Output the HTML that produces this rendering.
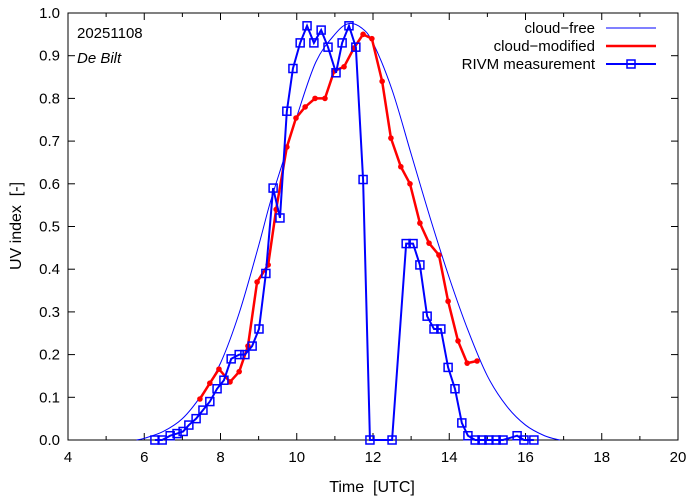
<!DOCTYPE html>
<html><head><meta charset="utf-8"><style>
body{margin:0;background:#fff}
svg{display:block;font-family:"Liberation Sans",sans-serif}
</style></head><body>
<svg id="chart" width="694" height="501" xmlns="http://www.w3.org/2000/svg">
<rect x="0" y="0" width="694" height="501" fill="#fff"/>
<g id="grid"></g>
<g id="series"></g>
<text x="77" y="38" font-size="15">20251108</text>
<text x="77" y="63" font-size="15" font-style="italic">De Bilt</text>
<text x="372" y="492" font-size="16" text-anchor="middle">Time&#160;&#160;[UTC]</text>
<text transform="translate(21,226) rotate(-90)" font-size="16" text-anchor="middle">UV index&#160;&#160;[-]</text>
<g>
<text x="595" y="33" font-size="15" text-anchor="end">cloud−free</text>
<line x1="606" y1="28" x2="656" y2="28" stroke="#00f" stroke-width="1"/>
<text x="595" y="51" font-size="15" text-anchor="end">cloud−modified</text>
<line x1="606" y1="46" x2="656" y2="46" stroke="#f00" stroke-width="2.5"/>
<text x="595" y="69" font-size="15" text-anchor="end">RIVM measurement</text>
<line x1="606" y1="64" x2="656" y2="64" stroke="#00f" stroke-width="2"/>
<rect x="627" y="60" width="8" height="8" fill="none" stroke="#00f" stroke-width="1.5"/>
</g>
</svg>
<script>
const xTicks=[4,6,8,10,12,14,16,18,20];
const yTicks=[0,0.1,0.2,0.3,0.4,0.5,0.6,0.7,0.8,0.9,1.0];
const clearT=[5.8,6,6.5,7,7.5,8,8.5,9,9.3,9.65,10,10.5,11,11.35,11.7,12,12.5,13,13.5,14,14.5,15,15.5,16,16.5,16.9];
const clearV=[0,0.004,0.02,0.05,0.105,0.18,0.3,0.455,0.555,0.655,0.757,0.885,0.95,0.975,0.965,0.93,0.82,0.67,0.52,0.38,0.255,0.15,0.08,0.035,0.01,0];
const modT=[7.46,7.72,7.96,8.25,8.49,8.72,8.96,9.25,9.46,9.74,9.98,10.22,10.48,10.74,10.98,11.24,11.5,11.74,11.97,12.24,12.47,12.73,12.97,13.23,13.47,13.73,13.97,14.23,14.47,14.73];
const modV=[0.096,0.133,0.166,0.136,0.16,0.22,0.37,0.41,0.54,0.686,0.754,0.78,0.8,0.8,0.864,0.874,0.918,0.95,0.94,0.84,0.707,0.64,0.6,0.508,0.461,0.433,0.325,0.232,0.18,0.185];
const measT=[6.28,6.47,6.68,6.86,7.02,7.17,7.36,7.54,7.72,7.91,8.09,8.28,8.49,8.64,8.83,9.01,9.19,9.38,9.56,9.74,9.9,10.09,10.27,10.45,10.64,10.82,11.03,11.19,11.37,11.55,11.74,11.92,12.5,12.87,13.05,13.23,13.42,13.6,13.78,13.97,14.15,14.33,14.49,14.68,14.86,15.04,15.23,15.41,15.78,15.96,16.22];
const measV=[0,0,0.01,0.015,0.02,0.035,0.05,0.07,0.09,0.12,0.14,0.19,0.2,0.2,0.22,0.26,0.39,0.59,0.52,0.77,0.87,0.93,0.97,0.93,0.96,0.92,0.86,0.93,0.97,0.92,0.61,0,0,0.46,0.46,0.41,0.29,0.26,0.26,0.17,0.12,0.04,0.01,0,0,0,0,0,0.01,0,0];
const X0=68,X1=678,Y0=440,Y1=13;
const sx=t=>X0+(t-4)/16*(X1-X0);
const sy=v=>Y0-v*(Y0-Y1);
const NS="http://www.w3.org/2000/svg";
function mk(tag,attrs,parent){const e=document.createElementNS(NS,tag);for(const k in attrs)e.setAttribute(k,attrs[k]);parent.appendChild(e);return e;}
const g=document.getElementById('grid'),s=document.getElementById('series');
xTicks.forEach(t=>{
 let l=mk('line',{x1:sx(t),x2:sx(t),y1:Y0,y2:Y0-7,stroke:'#000'},g);
 
 
 let l2=mk('line',{x1:sx(t),x2:sx(t),y1:Y1,y2:Y1+7,stroke:'#000'},g);
 
 
 let tx=mk('text',{x:sx(t),y:Y0+22,'font-size':15,'text-anchor':'middle'},g);tx.textContent=t;
 
 
});
xTicks.slice(0,-1).forEach(t=>{const m=t+1;
 let l=mk('line',{x1:sx(m),x2:sx(m),y1:Y0,y2:Y0-4,stroke:'#000'},g);
 
 
 let l2=mk('line',{x1:sx(m),x2:sx(m),y1:Y1,y2:Y1+4,stroke:'#000'},g);
 
 
});
yTicks.forEach(v=>{
 let l=mk('line',{x1:X0,x2:X0+7,y1:sy(v),y2:sy(v),stroke:'#000'},g);
 
 
 let l2=mk('line',{x1:X1,x2:X1-7,y1:sy(v),y2:sy(v),stroke:'#000'},g);
 
 
 let tx=mk('text',{x:X0-8,y:sy(v)+5,'font-size':15,'text-anchor':'end'},g);tx.textContent=v.toFixed(1);
 
 
});
let fr=mk('rect',{x:X0,y:Y1,width:X1-X0,height:Y0-Y1,fill:'none',stroke:'#000','stroke-width':1},g);


const cp=clearT.map((t,i)=>[sx(t),sy(clearV[i])]);
let d='M'+cp[0][0]+','+cp[0][1];
for(let i=0;i<cp.length-1;i++){const p0=cp[Math.max(0,i-1)],p1=cp[i],p2=cp[i+1],p3=cp[Math.min(cp.length-1,i+2)];
 d+=` C${p1[0]+(p2[0]-p0[0])/6},${p1[1]+(p2[1]-p0[1])/6} ${p2[0]-(p3[0]-p1[0])/6},${p2[1]-(p3[1]-p1[1])/6} ${p2[0]},${p2[1]}`;}
let cf=mk('path',{d:d,fill:'none',stroke:'#00f','stroke-width':1},s);


let mp=mk('polyline',{points:modT.map((t,i)=>sx(t)+','+sy(modV[i])).join(' '),fill:'none',stroke:'#f00','stroke-width':2.5},s);


modT.forEach((t,i)=>{let c=mk('circle',{cx:sx(t),cy:sy(modV[i]),r:2.8,fill:'#f00'},s);
 
 });
let rp=mk('polyline',{points:measT.map((t,i)=>sx(t)+','+sy(measV[i])).join(' '),fill:'none',stroke:'#00f','stroke-width':2},s);


measT.forEach((t,i)=>{let r=mk('rect',{x:sx(t)-4,y:sy(measV[i])-4,width:8,height:8,fill:'none',stroke:'#00f','stroke-width':1.5},s);
 
 });
</script>
</body></html>
